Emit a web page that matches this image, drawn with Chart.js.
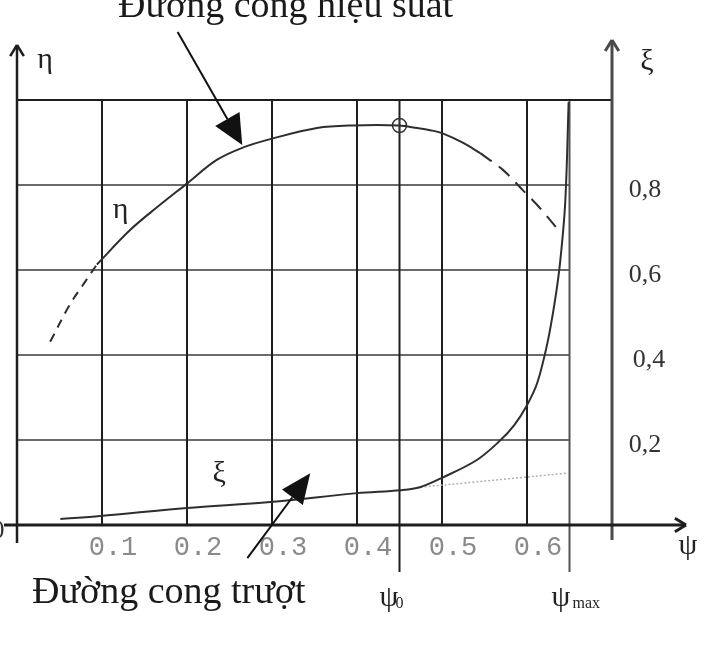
<!DOCTYPE html>
<html>
<head>
<meta charset="utf-8">
<script src="https://cdn.jsdelivr.net/npm/chart.js@4.4.1/dist/chart.umd.min.js"></script>
<style>
  html, body { margin: 0; padding: 0; background: #fff; }
  #wrap { width: 726px; height: 666px; }
</style>
</head>
<body>
<div id="wrap"><canvas id="chart" width="726" height="666"></canvas></div>
<script>
// efficiency curve η(ψ): dashed start, solid middle, dashed end
const etaStartDashed = [[0.039, 0.431], [0.062, 0.518], [0.079, 0.569], [0.094, 0.613]];
const etaSolid = [
    [0.094, 0.613], [0.133, 0.694], [0.165, 0.748], [0.199, 0.802], [0.235, 0.859],
    [0.267, 0.889], [0.298, 0.908], [0.353, 0.934], [0.395, 0.940], [0.449, 0.940],
    [0.471, 0.934], [0.486, 0.929], [0.500, 0.922], [0.525, 0.899], [0.545, 0.875]
];
const etaEndDashed = [[0.545, 0.875], [0.572, 0.835], [0.595, 0.788], [0.612, 0.753], [0.635, 0.699]];

// slip curve ξ(ψ)
const xiCurve = [
    [0.051, 0.014], [0.098, 0.021], [0.200, 0.040], [0.298, 0.054], [0.400, 0.075],
    [0.451, 0.082], [0.474, 0.089], [0.500, 0.111], [0.541, 0.153], [0.568, 0.198],
    [0.585, 0.235], [0.600, 0.282], [0.612, 0.334], [0.624, 0.428], [0.633, 0.529],
    [0.639, 0.619], [0.645, 0.760], [0.649, 0.995]
];
const xiLinear = [[0.470, 0.088], [0.647, 0.122]];
const optimum = [[0.45, 0.94]];

const xTickValues = [0.1, 0.2, 0.3, 0.4, 0.5, 0.6];
const xTickLabels = ['0.1', '0.2', '0.3', '0.4', '0.5', '0.6'];
const yTickValues = [0.2, 0.4, 0.6, 0.8];
const yTickLabels = ['0,2', '0,4', '0,6', '0,8'];
const yGridValues = [0.2, 0.4, 0.6, 0.8];
const psi0 = 0.45;
const psiMax = 0.65;
const psiEnd = 0.7;

const toXY = arr => arr.map(([x, y]) => ({ x, y }));

function seg(ctx, x0, y0, x1, y1) {
    ctx.beginPath();
    ctx.moveTo(x0, y0);
    ctx.lineTo(x1, y1);
    ctx.stroke();
}

function openHead(ctx, x, y, ang) {
    const l = 13, w = 0.55;
    seg(ctx, x, y, x - l * Math.cos(ang - w), y - l * Math.sin(ang - w));
    seg(ctx, x, y, x - l * Math.cos(ang + w), y - l * Math.sin(ang + w));
}

function filledArrow(ctx, x0, y0, x1, y1, len, half) {
    const a = Math.atan2(y1 - y0, x1 - x0);
    const c = Math.cos(a), s = Math.sin(a);
    const bx = x1 - len * c, by = y1 - len * s;
    ctx.lineWidth = 2;
    seg(ctx, x0, y0, bx, by);
    ctx.beginPath();
    ctx.moveTo(x1, y1);
    ctx.lineTo(bx + half * s, by - half * c);
    ctx.lineTo(bx - half * s, by + half * c);
    ctx.closePath();
    ctx.fill();
}

const sketch = {
    id: 'sketch',
    beforeDatasetsDraw(chart) {
        const { ctx, scales: { x, y } } = chart;
        const x0 = x.getPixelForValue(0), xm = x.getPixelForValue(psiMax), xe = x.getPixelForValue(psiEnd);
        const y0 = y.getPixelForValue(0), y1 = y.getPixelForValue(1);
        ctx.save();
        // horizontal grid, stops at ψmax
        ctx.strokeStyle = '#6a6a6a';
        ctx.lineWidth = 2;
        yGridValues.forEach(v => seg(ctx, x0, y.getPixelForValue(v), xm, y.getPixelForValue(v)));
        // vertical grid
        ctx.strokeStyle = '#1e1e1e';
        xTickValues.forEach(v => seg(ctx, x.getPixelForValue(v), y1, x.getPixelForValue(v), y0));
        seg(ctx, x.getPixelForValue(psi0), y1, x.getPixelForValue(psi0), y0 + 47);
        ctx.strokeStyle = '#555';
        seg(ctx, xm, y1, xm, y0 + 47);
        // top border
        ctx.strokeStyle = '#1e1e1e';
        seg(ctx, x0, y1, xe, y1);
        // left axis with arrow
        ctx.lineWidth = 2.5;
        seg(ctx, x0, y0 + 18, x0, 45);
        openHead(ctx, x0, 45, -Math.PI / 2);
        // right axis with arrow
        ctx.strokeStyle = '#4a4a4a';
        ctx.lineWidth = 3;
        seg(ctx, xe, y0 + 15, xe, 40);
        openHead(ctx, xe, 40, -Math.PI / 2);
        // ψ axis with arrow
        ctx.strokeStyle = '#1e1e1e';
        ctx.lineWidth = 3;
        seg(ctx, 4, y0, 686, y0);
        openHead(ctx, 686, y0, 0);
        ctx.restore();
    },
    afterDatasetsDraw(chart) {
        const { ctx, scales: { x, y } } = chart;
        const y0 = y.getPixelForValue(0);
        ctx.save();
        ctx.textBaseline = 'middle';
        ctx.textAlign = 'center';
        // ψ tick labels (monospace, grey, to the right of the grid lines)
        ctx.fillStyle = '#8a8a8a';
        ctx.font = '27px "Liberation Mono"';
        xTickValues.forEach((v, i) => ctx.fillText(xTickLabels[i], x.getPixelForValue(v) + 11, y0 + 23));
        // ξ tick labels at the right
        ctx.fillStyle = '#333';
        ctx.font = '26px "Liberation Serif"';
        yTickValues.forEach((v, i) => {
            const dx = v === 0.4 ? 4 : 0;
            ctx.fillText(yTickLabels[i], x.getPixelForValue(psiEnd) + 33 + dx, y.getPixelForValue(v) + 5);
        });
        ctx.fillText('0', -2, y0 + 6);
        // axis names
        ctx.font = '30px "Liberation Serif"';
        ctx.fillStyle = '#222';
        ctx.fillText('η', 45, 60);
        ctx.fillText('ξ', 647, 62);
        ctx.fillText('ψ', 688, 546);
        ctx.fillText('η', x.getPixelForValue(0.122), y.getPixelForValue(0.74));
        ctx.fillText('ξ', x.getPixelForValue(0.238), y.getPixelForValue(0.12));
        // ψ0 and ψmax
        ctx.textAlign = 'left';
        ctx.fillText('ψ', x.getPixelForValue(psi0) - 20, 598);
        ctx.fillText('ψ', x.getPixelForValue(psiMax) - 18, 598);
        ctx.font = '16px "Liberation Serif"';
        ctx.fillText('0', x.getPixelForValue(psi0) - 4, 604);
        ctx.fillText('max', x.getPixelForValue(psiMax) + 3, 604);
        // captions
        ctx.textBaseline = 'alphabetic';
        ctx.font = '38px "Liberation Serif"';
        ctx.fillStyle = '#1a1a1a';
        ctx.fillText('Đường cong hiệu suất', 118, 17);
        ctx.fillText('Đường cong trượt', 32, 603);
        // pointer arrows
        ctx.strokeStyle = '#111';
        ctx.fillStyle = '#111';
        filledArrow(ctx, x.getPixelForValue(0.189), y.getPixelForValue(1.16),
            x.getPixelForValue(0.265), y.getPixelForValue(0.894), 30, 14);
        filledArrow(ctx, x.getPixelForValue(0.271), y.getPixelForValue(-0.078),
            x.getPixelForValue(0.345), y.getPixelForValue(0.122), 30, 13);
        ctx.restore();
    }
};

const curve = (data, extra) => Object.assign({
    data: toXY(data),
    showLine: true,
    borderColor: '#2e2e2e',
    borderWidth: 2,
    pointRadius: 0,
    tension: 0.35,
    clip: false
}, extra);

new Chart(document.getElementById('chart'), {
    type: 'scatter',
    data: {
        datasets: [
            curve(etaStartDashed, { borderDash: [9, 7] }),
            curve(etaSolid),
            curve(etaEndDashed, { borderDash: [14, 9] }),
            curve(xiCurve),
            curve(xiLinear, { borderColor: '#b0b0b0', borderWidth: 1.5, borderDash: [2, 2] }),
            {
                data: toXY(optimum),
                pointStyle: 'circle',
                pointRadius: 7,
                borderColor: '#333',
                borderWidth: 1.5,
                backgroundColor: 'rgba(0,0,0,0)'
            },
            {
                data: toXY(optimum),
                pointStyle: 'cross',
                pointRadius: 7,
                borderColor: '#333',
                borderWidth: 1.2
            }
        ]
    },
    options: {
        responsive: false,
        animation: false,
        devicePixelRatio: 1,
        layout: { padding: { left: 17, right: 114, top: 100, bottom: 141 } },
        scales: {
            x: { type: 'linear', min: 0, max: psiEnd, display: false },
            y: { type: 'linear', min: 0, max: 1, display: false }
        },
        plugins: { legend: { display: false }, tooltip: { enabled: false } }
    },
    plugins: [sketch]
});
</script>
</body>
</html>
